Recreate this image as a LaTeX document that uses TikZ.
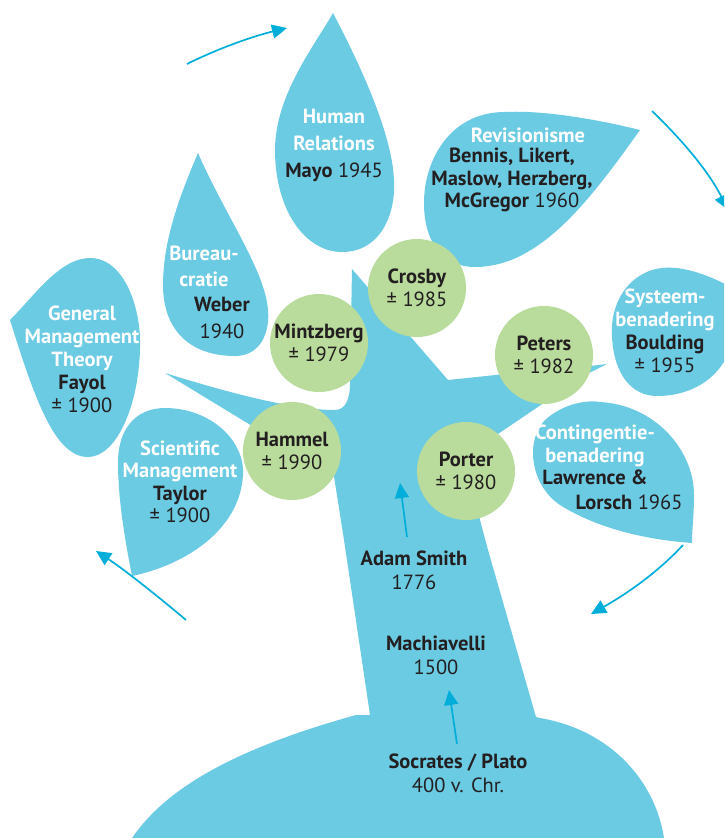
\documentclass[tikz,border=0pt]{standalone}
\usepackage{fontspec}
\setmainfont{PT Sans}
\usetikzlibrary{arrows.meta}
\definecolor{leafblue}{HTML}{6BCBE3}
\definecolor{arrowblue}{HTML}{00AED9}
\definecolor{circgreen}{HTML}{B9DB9C}
\definecolor{ink}{HTML}{231F20}
\newcommand\leaftitle[1]{\textcolor{white}{\bfseries #1}}
\newcommand\pname[1]{\textbf{#1}}
\tikzset{
  leaf/.style={fill=leafblue, draw=none},
  txt/.style={align=center, font=\fontsize{20.5}{23}\selectfont, text=ink, inner sep=0pt},
  circ/.style={circle, fill=circgreen, draw=none, minimum size=98pt, inner sep=0pt, align=center, font=\fontsize{20.5}{23}\selectfont, text=ink},
  arr/.style={draw=arrowblue, line width=1.7pt, -{Triangle[length=15pt,width=14pt]}}
}
\begin{document}
\begin{tikzpicture}[x=1pt,y=-1pt]
\path[use as bounding box] (0,0) rectangle (724,838);
\clip (0,0) rectangle (724,838);
% tree
\fill[leafblue] (132,838) .. controls (165,790) and (230,750) .. (356,715) -- (370,715) -- (344,540) -- (333,470) -- (262,432) -- (165,373)
  .. controls (220,390) and (290,410) .. (335,410) .. controls (345,410) and (350,400) .. (350,383) -- (352,269) -- (448,380) -- (505,374)
  -- (590,366) -- (607,364) -- (585,375) -- (560,392) -- (495,436) -- (476,505) -- (488,550) -- (536,717) -- (540,718)
  .. controls (610,730) and (655,780) .. (664,838) -- cycle;
% leaves
\fill[leaf] (333,13) .. controls (315,45) and (275,95) .. (275,150) .. controls (275,210) and (305,252) .. (342,252)
  .. controls (380,252) and (396,215) .. (394,180) .. controls (392,130) and (355,55) .. (333,13) -- cycle;
\fill[leaf] (198,153) .. controls (180,195) and (163,240) .. (163,285) .. controls (163,330) and (190,356) .. (235,356)
  .. controls (262,356) and (270,330) .. (268,310) .. controls (265,270) and (225,215) .. (198,153) -- cycle;
\fill[leaf] (10,320) .. controls (35,295) and (60,258) .. (90,258) .. controls (125,258) and (142,310) .. (140,350)
  .. controls (138,410) and (115,457) .. (88,457) .. controls (55,457) and (35,400) .. (10,320) -- cycle;
\fill[leaf] (132,576) .. controls (125,540) and (118,500) .. (118,462) .. controls (118,430) and (135,408) .. (165,408)
  .. controls (210,408) and (245,440) .. (243,475) .. controls (240,530) and (185,565) .. (132,576) -- cycle;
\fill[leaf] (640,130) .. controls (600,120) and (545,110) .. (505,112) .. controls (450,112) and (424,160) .. (424,203)
  .. controls (424,245) and (445,267) .. (475,267) .. controls (540,267) and (590,200) .. (640,130) -- cycle;
\fill[leaf] (740,292) .. controls (705,272) and (675,263) .. (652,270) .. controls (622,280) and (610,310) .. (612,337)
  .. controls (614,375) and (632,396) .. (657,396) .. controls (690,396) and (718,380) .. (730,350) -- cycle;
\fill[leaf] (692,543) .. controls (650,540) and (600,530) .. (560,505) .. controls (530,485) and (525,440) .. (545,420)
  .. controls (565,402) and (590,400) .. (600,402) .. controls (655,405) and (694,450) .. (694,495)
  .. controls (694,515) and (692,530) .. (692,543) -- cycle;
% circles
\node[circ] (crosby) at (417,288) {\pname{Crosby}\\± 1985};
\node[circ] (mintz) at (319,343) {\pname{Mintzberg}\\± 1979};
\node[circ] (hammel) at (292,451) {\pname{Hammel}\\± 1990};
\node[circ] (peters) at (544,355) {\pname{Peters}\\± 1982};
\node[circ] (porter) at (466,471) {\pname{Porter}\\± 1980};
% leaf texts
\node[txt, font=\fontsize{20.5}{27}\selectfont] (human) at (334,145) {\leaftitle{Human}\\\leaftitle{Relations}\\\pname{Mayo} 1945};
\node[txt, font=\fontsize{20.5}{26}\selectfont] (bur) at (204,266) {\leaftitle{Bureau-}\\\leaftitle{cratie}};
\node[txt, font=\fontsize{20.5}{27}\selectfont] (weber) at (222,318) {\pname{Weber}\\1940};
\node[txt] (fayol) at (82,359) {\leaftitle{General}\\\leaftitle{Management}\\\leaftitle{Theory}\\\pname{Fayol}\\± 1900};
\node[txt, font=\fontsize{20.5}{22.5}\selectfont] (taylor) at (180,482) {\leaftitle{Scientific}\\\leaftitle{Management}\\\pname{Taylor}\\± 1900};
\node[txt] (revt) at (528,135) {\leaftitle{Revisionisme}};
\node[txt, font=\fontsize{20.5}{22.5}\selectfont] (revn) at (512,180) {\pname{Bennis, Likert,}\\\pname{Maslow, Herzberg,}\\\pname{McGregor} 1960};
\node[txt] (syst) at (665,331) {\leaftitle{Systeem-}\\\leaftitle{benadering}\\\pname{Boulding}\\± 1955};
\node[txt, font=\fontsize{20.5}{22.5}\selectfont] (cont) at (595,455) {\leaftitle{Contingentie-}\\\leaftitle{benadering}\\\pname{Lawrence \&}};
\node[txt] (lorsch) at (629,502) {\pname{Lorsch} 1965};
\node[txt, font=\fontsize{20.5}{24}\selectfont] (smith) at (414,570) {\pname{Adam Smith}\\1776};
\node[txt, font=\fontsize{20.5}{24}\selectfont] (mach) at (436,655) {\pname{Machiavelli}\\1500};
\node[txt, font=\fontsize{20.5}{24}\selectfont] (socr) at (458,773) {\pname{Socrates / Plato}\\400 v. Chr.};
% arrows
\coordinate (tlS) at (187,64);  \coordinate (tlE) at (287,28);
\coordinate (trS) at (652,111); \coordinate (trE) at (728,210);
\coordinate (brS) at (683,545); \coordinate (brE) at (591,614);
\coordinate (blS) at (186,620); \coordinate (blE) at (96,551);
\coordinate (smS) at (407,537); \coordinate (smE) at (400,483);
\coordinate (soS) at (457,744); \coordinate (soE) at (449,690);
\draw[arr] (tlS) .. controls (215,50) and (250,37) .. (tlE);
\draw[arr] (trS) .. controls (680,138) and (708,170) .. (trE);
\draw[arr] (brS) .. controls (660,570) and (630,592) .. (brE);
\draw[arr] (blS) .. controls (160,598) and (125,570) .. (blE);
\draw[arr] (smS) -- (smE);
\draw[arr] (soS) -- (soE);
\end{tikzpicture}
\end{document}
